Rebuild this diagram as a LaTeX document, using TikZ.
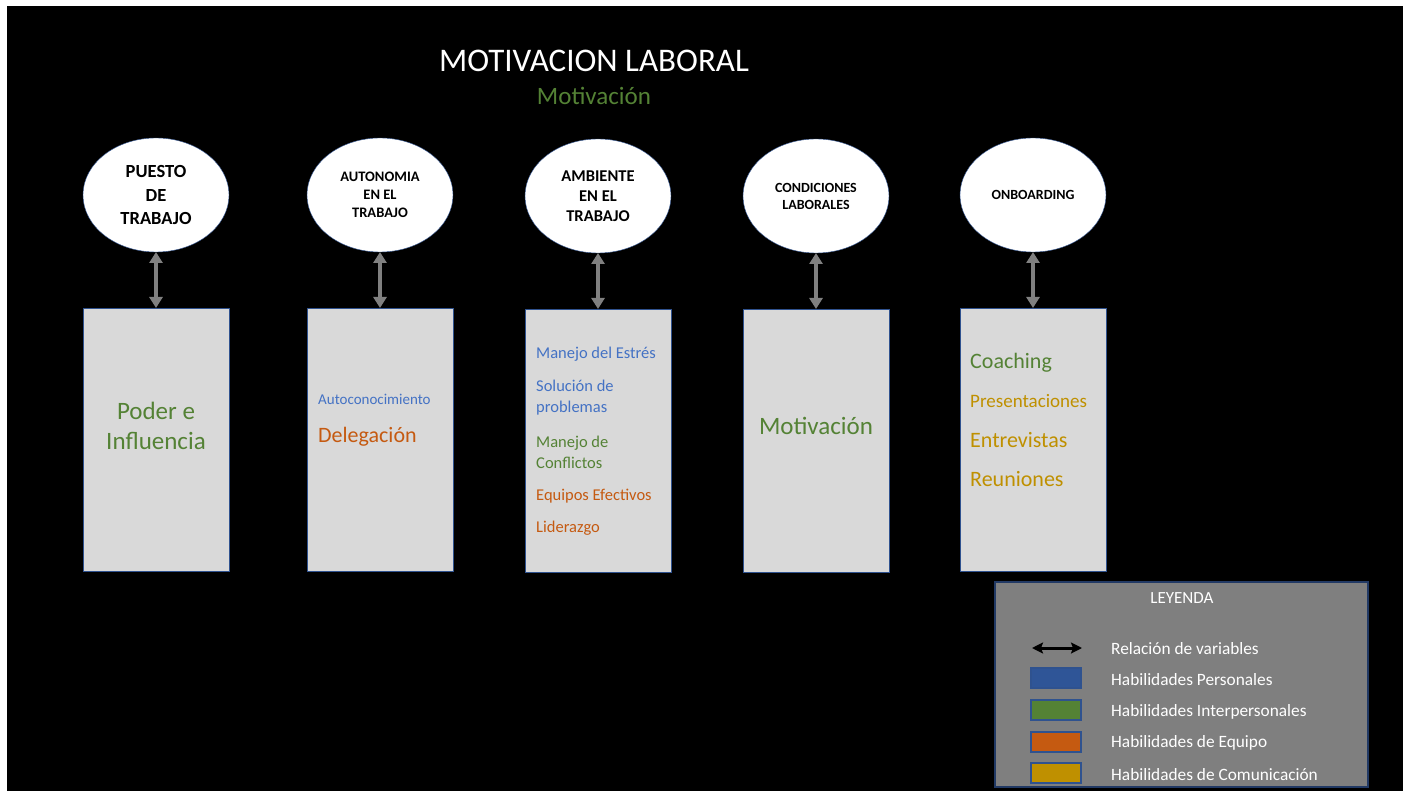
\documentclass[tikz,border=0pt]{standalone}
\usepackage{fontspec}
\setmainfont{Carlito}
\usetikzlibrary{shapes.geometric, positioning, arrows.meta}
\usepackage{color}
\definecolor{frame}{RGB}{47, 82, 143}
\definecolor{boxfill}{RGB}{217, 217, 217}
\definecolor{legfill}{RGB}{127, 127, 127}
\definecolor{linkgray}{RGB}{128, 128, 128}
\definecolor{personal}{RGB}{68, 114, 196}
\definecolor{personaldark}{RGB}{47, 85, 151}
\definecolor{inter}{RGB}{84, 130, 53}
\definecolor{team}{RGB}{197, 90, 17}
\definecolor{comm}{RGB}{191, 144, 0}

\begin{document}
\begin{tikzpicture}[x=1pt, y=-1pt,
    factor/.style={draw=frame, fill=white, ellipse, minimum width=146pt, minimum height=114pt, inner sep=0pt, outer sep=0pt, align=center},
    skillbox/.style={draw=frame, fill=boxfill, rectangle, minimum width=146pt, minimum height=263pt, inner sep=0pt, outer sep=0pt},
    link/.style={linkgray, line width=4.5pt, {Triangle[width=13pt,length=11pt]}-{Triangle[width=13pt,length=11pt]}},
    skill/.style={anchor=west, inner sep=0pt, align=left},
    swatch/.style={draw=frame, line width=1.2pt, minimum width=50pt, minimum height=20pt, inner sep=0pt},
    leglabel/.style={anchor=west, inner sep=0pt, text=white, font=\fontsize{17.3}{20}\selectfont}]
    \useasboundingbox (0,0) rectangle (1403,791);
    \fill[white] (0,0) rectangle (1403,791);
    \fill[black] (7,6) rectangle (1403,791);

    % titulo
    \node[text=white, font=\fontsize{33}{40}\selectfont] (title) at (594,61) {MOTIVACION LABORAL};
    \node[text=inter, font=\fontsize{25}{30}\selectfont] (subtitle) at (594,96) {Motivación};

    % variables
    \node[factor, font=\bfseries\fontsize{18.5}{23.5}\selectfont] (puesto) at (156,195) {PUESTO\\DE\\TRABAJO};
    \node[factor, font=\bfseries\fontsize{14.5}{18}\selectfont] (autonomia) at (380,195) {AUTONOMIA\\EN EL\\TRABAJO};
    \node[factor, font=\bfseries\fontsize{16.5}{20}\selectfont] (ambiente) at (598,196) {AMBIENTE\\EN EL\\TRABAJO};
    \node[factor, font=\bfseries\fontsize{14}{17}\selectfont] (condiciones) at (816,196) {CONDICIONES\\LABORALES};
    \node[factor, font=\bfseries\fontsize{14}{17}\selectfont] (onboarding) at (1033,195) {ONBOARDING};

    % habilidades
    \node[skillbox, below=56pt of puesto] (bpuesto) {};
    \node[skillbox, below=56pt of autonomia] (bautonomia) {};
    \node[skillbox, below=56pt of ambiente] (bambiente) {};
    \node[skillbox, below=56pt of condiciones] (bcondiciones) {};
    \node[skillbox, below=56pt of onboarding] (bonboarding) {};

    \foreach \v in {puesto, autonomia, ambiente, condiciones, onboarding}
        \draw[link] (\v) -- (b\v);

    \node[text=inter, align=center, font=\fontsize{25}{30}\selectfont] (poder) at (156,426) {Poder e\\Influencia};

    \node[skill, text=personal, font=\fontsize{15}{18}\selectfont] (autocon) at (318,399) {Autoconocimiento};
    \node[skill, text=team, font=\fontsize{22}{26}\selectfont] (delega) at (318,437) {Delegación};

    \node[skill, text=personal, font=\fontsize{16.5}{21}\selectfont] (estres) at (536,354) {Manejo del Estrés};
    \node[skill, text=personal, font=\fontsize{16.5}{21}\selectfont] (solucion) at (536,397.5) {Solución de\\problemas};
    \node[skill, text=inter, font=\fontsize{16.5}{21}\selectfont] (conflictos) at (536,452.5) {Manejo de\\Conflictos};
    \node[skill, text=team, font=\fontsize{16.5}{21}\selectfont] (equipos) at (536,496) {Equipos Efectivos};
    \node[skill, text=team, font=\fontsize{16.5}{21}\selectfont] (liderazgo) at (536,528) {Liderazgo};

    \node[text=inter, font=\fontsize{25}{30}\selectfont] (motiv) at (816,426) {Motivación};

    \node[skill, text=inter, font=\fontsize{22}{26}\selectfont] (coaching) at (970,363) {Coaching};
    \node[skill, text=comm, font=\fontsize{19}{22}\selectfont] (present) at (970,401) {Presentaciones};
    \node[skill, text=comm, font=\fontsize{22}{26}\selectfont] (entrev) at (970,440) {Entrevistas};
    \node[skill, text=comm, font=\fontsize{22}{26}\selectfont] (reun) at (970,479) {Reuniones};

    % leyenda
    \node[draw=frame!70!black, line width=1.5pt, fill=legfill, minimum width=373pt, minimum height=205pt, inner sep=0pt] (legend) at (1181.5,684.5) {};
    \node[text=white, font=\fontsize{17}{20}\selectfont] (legtitle) at (1182,598) {LEYENDA};
    \coordinate (la) at (1032,648);
    \coordinate (lb) at (1082,648);
    \draw[line width=3pt, {Stealth[width=11pt,length=11pt,inset=2pt]}-{Stealth[width=11pt,length=11pt,inset=2pt]}] (la) -- (lb);
    \node[swatch, fill=personaldark] (sw1) at (1056,678) {};
    \node[swatch, fill=inter] (sw2) at (1056,710) {};
    \node[swatch, fill=team] (sw3) at (1056,742) {};
    \node[swatch, fill=comm] (sw4) at (1056,773) {};
    \node[leglabel] (l0) at (1111,649) {Relación de variables};
    \node[leglabel] (l1) at (1111,680) {Habilidades Personales};
    \node[leglabel] (l2) at (1111,712) {Habilidades Interpersonales};
    \node[leglabel] (l3) at (1111,743) {Habilidades de Equipo};
    \node[leglabel] (l4) at (1111,775) {Habilidades de Comunicación};
\end{tikzpicture}
\end{document}
